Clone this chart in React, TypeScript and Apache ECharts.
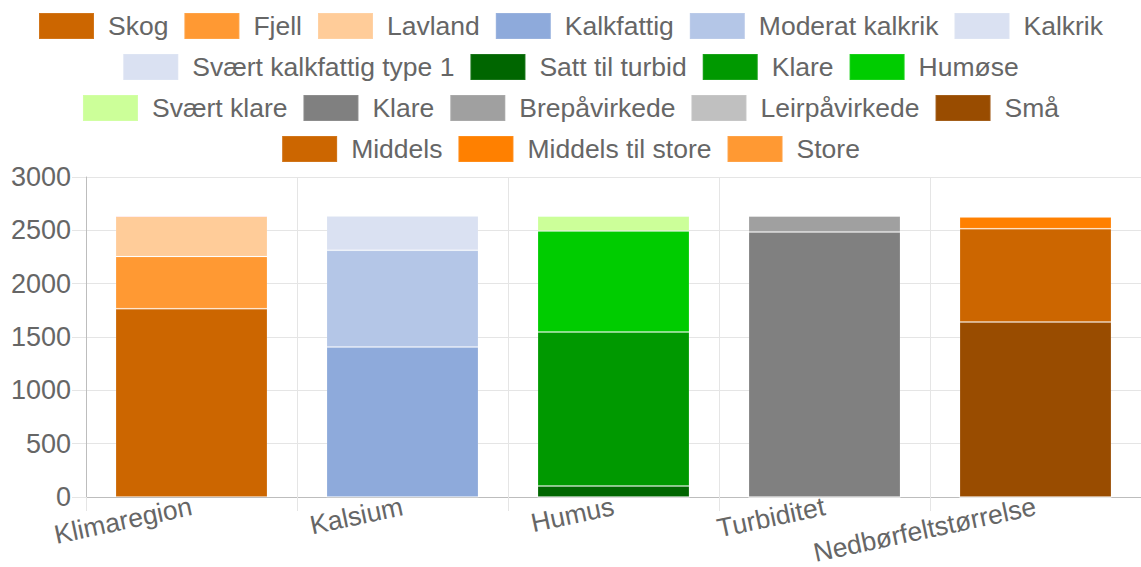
import React, { useEffect, useRef } from "react";
import * as echarts from "echarts";

const categories = ["Klimaregion", "Kalsium", "Humus", "Turbiditet", "Nedbørfeltstørrelse"];

// series: name, color, values per category
const seriesNames = [
  "Skog", "Fjell", "Lavland",
  "Kalkfattig", "Moderat kalkrik", "Kalkrik", "Svært kalkfattig type 1",
  "Satt til turbid", "Klare", "Humøse", "Svært klare",
  "Klare ", "Brepåvirkede", "Leirpåvirkede",
  "Små", "Middels", "Middels til store", "Store",
];
const seriesColors = [
  "#cc6600", "#ff9933", "#ffcc99",
  "#8eaadb", "#b4c6e7", "#dae1f2", "#dae1f2",
  "#006600", "#009900", "#00cc00", "#ccff99",
  "#808080", "#a0a0a0", "#c0c0c0",
  "#994c00", "#cc6600", "#ff8000", "#ff9933",
];
const skog = [1766, 0, 0, 0, 0];
const fjell = [488, 0, 0, 0, 0];
const lavland = [380, 0, 0, 0, 0];
const kalkfattig = [0, 1406, 0, 0, 0];
const moderatKalkrik = [0, 907, 0, 0, 0];
const kalkrik = [0, 321, 0, 0, 0];
const svaertKalkfattig = [0, 0, 0, 0, 0];
const sattTilTurbid = [0, 0, 103, 0, 0];
const klareHumus = [0, 0, 1444, 0, 0];
const humose = [0, 0, 947, 0, 0];
const svaertKlare = [0, 0, 140, 0, 0];
const klareTurb = [0, 0, 0, 2484, 0];
const brepavirkede = [0, 0, 0, 150, 0];
const leirpavirkede = [0, 0, 0, 0, 0];
const sma = [0, 0, 0, 0, 1641];
const middels = [0, 0, 0, 0, 875];
const middelsTilStore = [0, 0, 0, 0, 108];
const store = [0, 0, 0, 0, 10];
const seriesValues = [
  skog, fjell, lavland,
  kalkfattig, moderatKalkrik, kalkrik, svaertKalkfattig,
  sattTilTurbid, klareHumus, humose, svaertKlare,
  klareTurb, brepavirkede, leirpavirkede,
  sma, middels, middelsTilStore, store,
];
const legendRows = [
  ["Skog", "Fjell", "Lavland", "Kalkfattig", "Moderat kalkrik", "Kalkrik"],
  ["Svært kalkfattig type 1", "Satt til turbid", "Klare", "Humøse"],
  ["Svært klare", "Klare ", "Brepåvirkede", "Leirpåvirkede", "Små"],
  ["Middels", "Middels til store", "Store"],
];
const yTicks = { min: 0, max: 3000, interval: 500 };

const FONT = "'Liberation Sans', Arial, Helvetica, sans-serif";

export default function App() {
  const ref = useRef<HTMLDivElement>(null);
  useEffect(() => {
    if (!ref.current) return;
    const chart = echarts.init(ref.current, undefined, { renderer: "svg" });
    const rowTops = [12, 53, 94, 135];
    chart.setOption({
      animation: false,
      textStyle: { fontFamily: FONT },
      legend: legendRows.map((row, i) => ({
        data: row,
        top: rowTops[i],
        left: "center",
        padding: 0,
        icon: "rect",
        itemWidth: 55,
        itemHeight: 26,
        itemGap: 15,
        selectedMode: false,
        formatter: (n: string) => n.trim(),
        textStyle: { fontSize: 26.5, color: "#666", fontFamily: FONT, padding: [0, 0, 0, 9] },
      })),
      grid: { left: 86, right: 0, top: 177, bottom: 70, outerBoundsMode: "none" },
      xAxis: {
        type: "category",
        data: categories,
        axisLine: { lineStyle: { color: "#bdbdbd", width: 1 } },
        axisTick: { show: true, length: 14, lineStyle: { color: "#e5e5e5" } },
        splitLine: { show: true, lineStyle: { color: "#e5e5e5" } },
        axisLabel: { rotate: 12, fontSize: 26.5, lineHeight: 24, color: "#666", margin: 9, fontFamily: FONT, interval: 0 },
      },
      yAxis: {
        type: "value",
        ...yTicks,
        axisLine: { show: true, lineStyle: { color: "#bdbdbd", width: 1 } },
        axisTick: { show: true, length: 14, lineStyle: { color: "#e5e5e5" } },
        splitLine: { show: true, lineStyle: { color: "#e5e5e5" } },
        axisLabel: { fontSize: 27, color: "#666", margin: 15, fontFamily: FONT, formatter: (v: number) => String(v) },
      },
      series: seriesNames.map((name, i) => ({
        name,
        type: "bar",
        stack: "total",
        barCategoryGap: "28%",
        data: seriesValues[i],
        itemStyle: { color: seriesColors[i], borderColor: "rgba(255,255,255,0.1)", borderWidth: 1 },
      })),
    });
    return () => chart.dispose();
  }, []);
  return (
    <div
      ref={ref}
      style={{ position: "fixed", left: 0, top: 0, width: 1141, height: 567, background: "#fff" }}
    />
  );
}
